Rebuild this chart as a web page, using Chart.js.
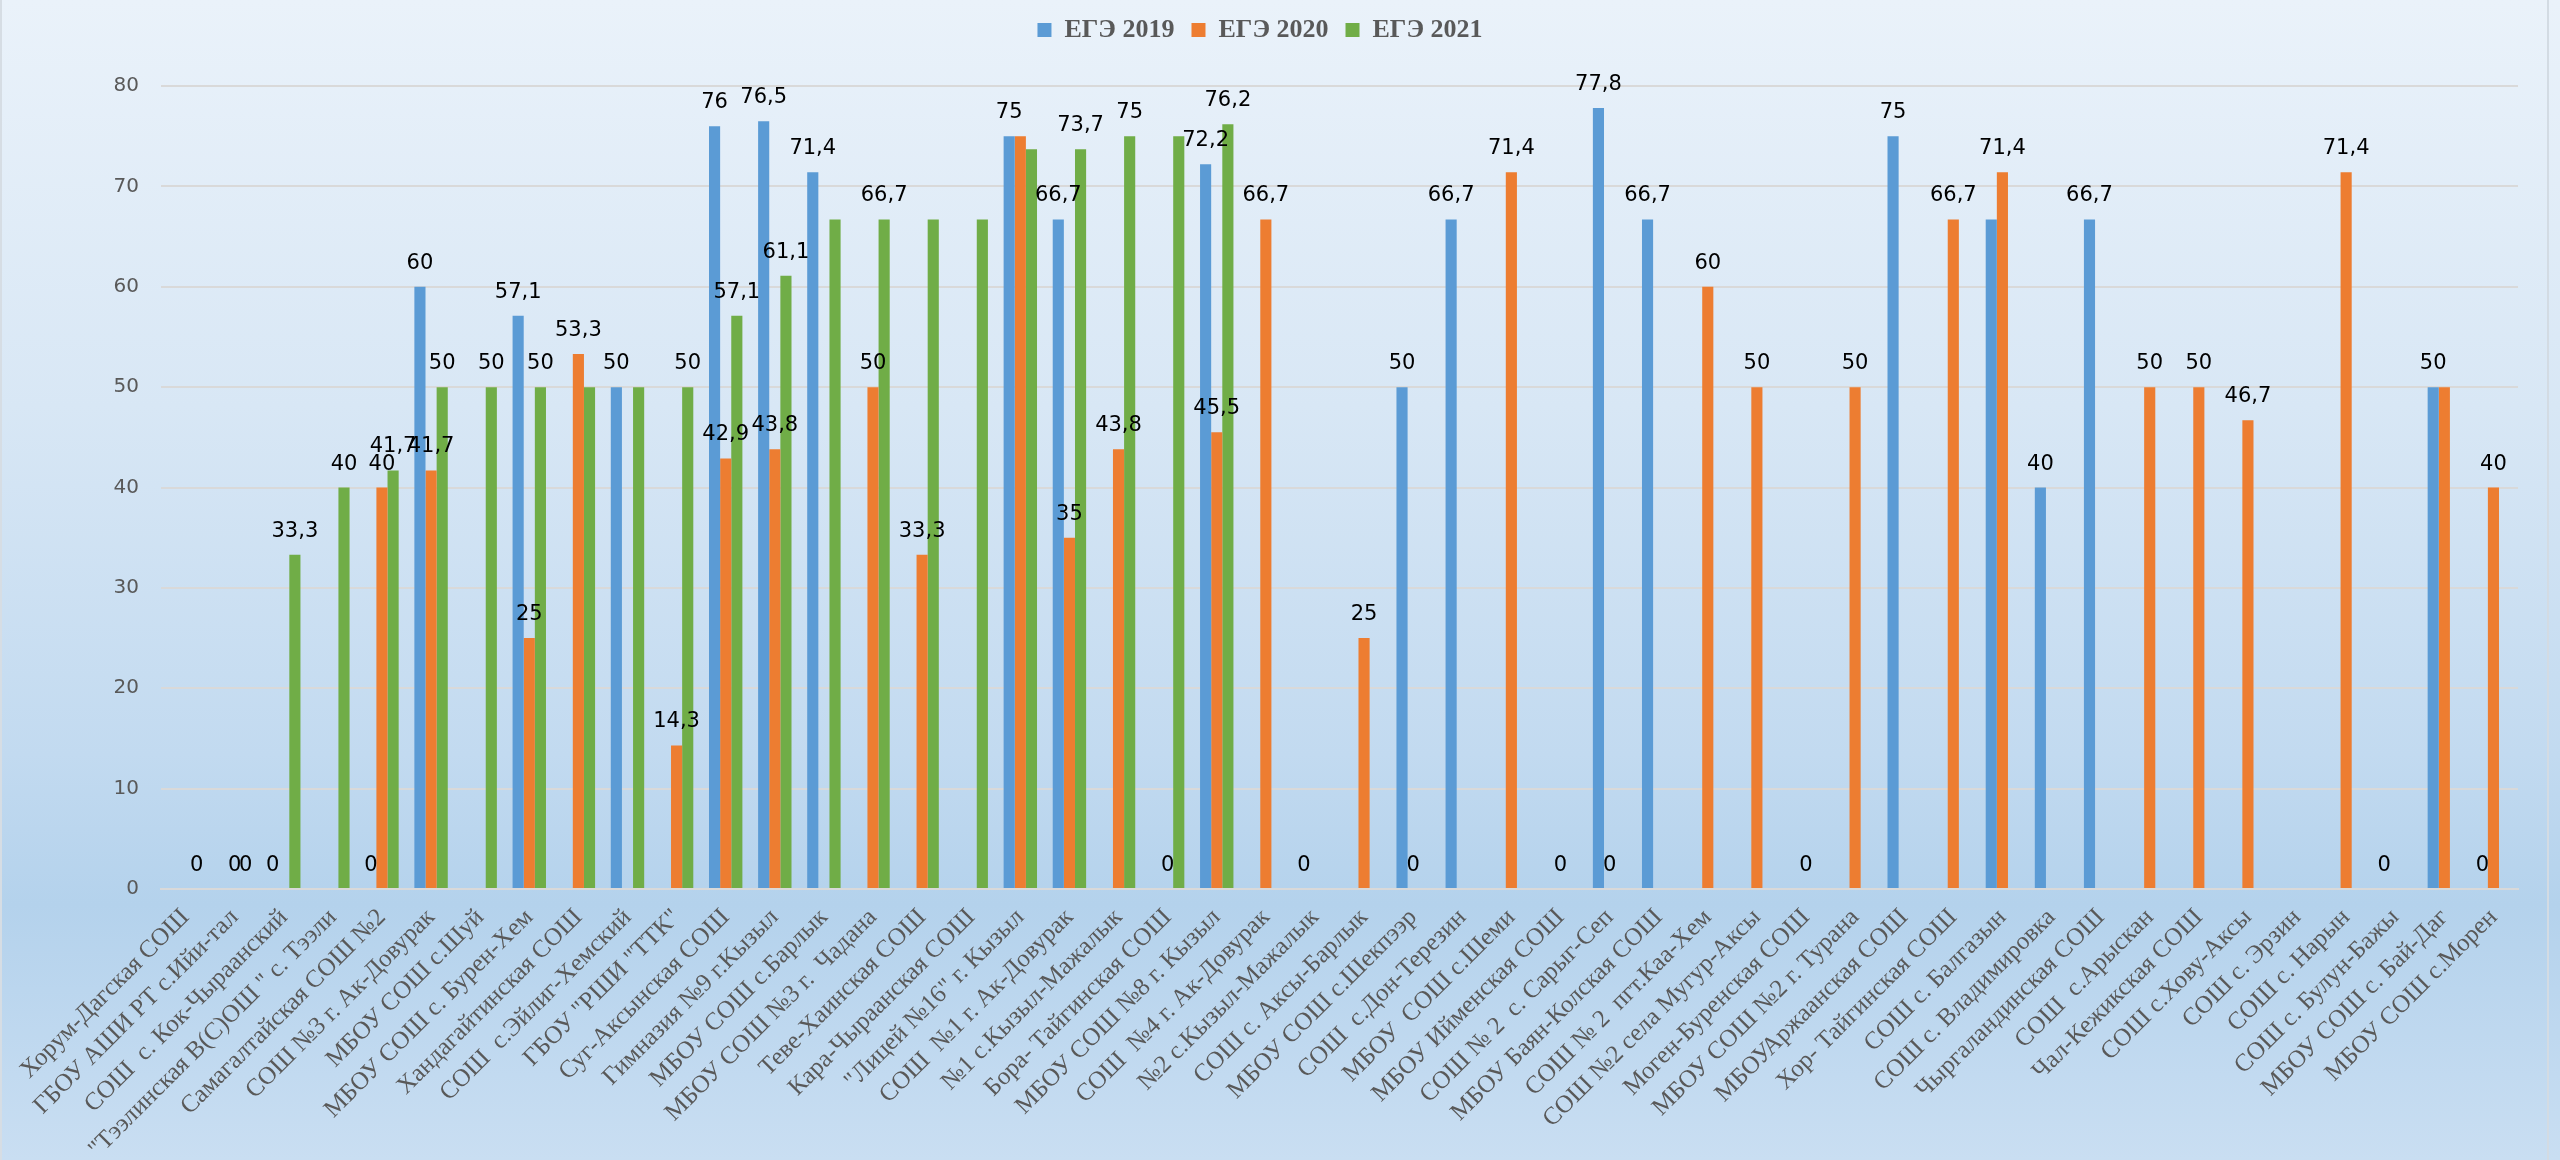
<!DOCTYPE html>
<html>
<head>
<meta charset="utf-8">
<script src="https://cdn.jsdelivr.net/npm/chart.js@4"></script>
<style>
  html, body { margin: 0; padding: 0; }
  #wrap {
    position: relative;
    width: 2560px;
    height: 1160px;
    background: linear-gradient(to bottom, #eaf2fa 0%, #d8e7f5 35%, #c2daf0 65%, #b4d2ec 78%, #c9def2 100%);
    box-sizing: border-box;
    border-left: 2px solid #d6dde4;
  }
  #edge {
    position: absolute;
    left: 2545px;
    top: 0;
    width: 2px;
    height: 1160px;
    background: #d3dbe3;
  }
</style>
</head>
<body>
<div id="wrap"><canvas id="chart"></canvas><div id="edge"></div></div>
<script>
const categories = [
  'Хорум-Дагская СОШ',
  'ГБОУ АШИ РТ с.Ийи-тал',
  'СОШ  с. Кок-Чыраанский',
  '"Тээлинская В(С)ОШ " с. Тээли',
  'Самагалтайская СОШ №2',
  'СОШ №3 г. Ак-Довурак',
  'МБОУ СОШ с.Шуй',
  'МБОУ СОШ с. Бурен-Хем',
  'Хандагайтинская СОШ',
  'СОШ  с.Эйлиг-Хемский',
  'ГБОУ "РШИ "ТТК"',
  'Суг-Аксынская СОШ',
  'Гимназия №9 г.Кызыл',
  'МБОУ СОШ с.Барлык',
  'МБОУ СОШ №3 г.  Чадана',
  'Теве-Хаинская СОШ',
  'Кара-Чыраанская СОШ',
  '"Лицей №16" г. Кызыл',
  'СОШ  №1 г. Ак-Довурак',
  '№1 с.Кызыл-Мажалык',
  'Бора- Тайгинская СОШ',
  'МБОУ СОШ №8 г. Кызыл',
  'СОШ  №4 г. Ак-Довурак',
  '№2 с.Кызыл-Мажалык',
  'СОШ с. Аксы-Барлык',
  'МБОУ СОШ с.Шекпээр',
  'СОШ  с.Дон-Терезин',
  'МБОУ  СОШ с.Шеми',
  'МБОУ Ийменская СОШ',
  'СОШ № 2  с. Сарыг-Сеп',
  'МБОУ Баян-Колская СОШ',
  'СОШ № 2  пгт.Каа-Хем',
  'СОШ №2 села Мугур-Аксы',
  'Моген-Буренская СОШ',
  'МБОУ СОШ №2 г. Турана',
  'МБОУАржаанская СОШ',
  'Хор- Тайгинская СОШ',
  'СОШ с. Балгазын',
  'СОШ с. Владимировка',
  'Чыргаландинская СОШ',
  'СОШ  с.Арыскан',
  'Чал-Кежикская СОШ',
  'СОШ с.Хову-Аксы',
  'СОШ с. Эрзин',
  'СОШ с. Нарын',
  'СОШ с. Булун-Бажы',
  'МБОУ СОШ с. Бай-Даг',
  'МБОУ СОШ с.Морен'
];

const ege2019 = [
  null, null, 0, null, 0, 60, null, 57.1, null, 50, null, 76,
  76.5, 71.4, null, null, null, 75, 66.7, null, null, 72.2, null, 0,
  null, 50, 66.7, null, null, 77.8, 66.7, null, null, null, null, 75,
  null, 66.7, 40, 66.7, null, null, null, null, null, 0, 50, 0
];

const ege2020 = [
  null, 0, null, null, 40, 41.7, null, 25, 53.3, null, 14.3, 42.9,
  43.8, null, 50, 33.3, null, 75, 35, 43.8, 0, 45.5, 66.7, null,
  25, 0, null, 71.4, 0, 0, null, 60, 50, 0, 50, null,
  66.7, 71.4, null, null, 50, 50, 46.7, null, 71.4, null, 50, 40
];

const ege2021 = [
  0, 0, 33.3, 40, 41.7, 50, 50, 50, 50, 50, 50, 57.1,
  61.1, 66.7, 66.7, 66.7, 66.7, 73.7, 73.7, 75, 75, 76.2, null, null,
  null, null, null, null, null, null, null, null, null, null, null, null,
  null, null, null, null, null, null, null, null, null, null, null, null
];

const seriesNames = ['ЕГЭ 2019', 'ЕГЭ 2020', 'ЕГЭ 2021'];
const yTickValues = [0, 10, 20, 30, 40, 50, 60, 70, 80];

// labels that were removed in the original chart ("series:category")
const hiddenLabels = ['2:8', '2:9', '2:13', '2:15', '2:16', '1:17', '2:17', '2:20', '0:37', '1:46'];

// value labels above each bar, "0" included, empty cells skipped
const valueLabels = {
  id: 'valueLabels',
  afterDatasetsDraw(chart) {
    const ctx = chart.ctx;
    ctx.save();
    ctx.font = '21px "DejaVu Sans"';
    ctx.fillStyle = '#000000';
    ctx.textAlign = 'center';
    ctx.textBaseline = 'alphabetic';
    chart.data.datasets.forEach((ds, i) => {
      const meta = chart.getDatasetMeta(i);
      meta.data.forEach((bar, j) => {
        const v = ds.data[j];
        if (v === null || v === undefined) return;
        if (hiddenLabels.includes(i + ':' + j)) return;
        ctx.fillText(String(v).replace('.', ','), bar.x, bar.y - 18);
      });
    });
    ctx.restore();
  }
};

// push the plot area down below the legend
const legendSpacing = {
  id: 'legendSpacing',
  beforeInit(chart) {
    const origFit = chart.legend.fit;
    chart.legend.fit = function fit() {
      origFit.bind(chart.legend)();
      this.height += 33;
    };
  }
};

const ctx = document.getElementById('chart');
new Chart(ctx, {
  type: 'bar',
  data: {
    labels: categories,
    datasets: [
      { label: seriesNames[0], data: ege2019, backgroundColor: '#5B9BD5' },
      { label: seriesNames[1], data: ege2020, backgroundColor: '#ED7D31' },
      { label: seriesNames[2], data: ege2021, backgroundColor: '#70AD47' }
    ]
  },
  options: {
    responsive: true,
    maintainAspectRatio: false,
    animation: false,
    datasets: {
      bar: { categoryPercentage: 0.68, barPercentage: 1.0, borderWidth: 0 }
    },
    layout: { padding: { top: 0, right: 42, bottom: 0, left: 0 } },
    plugins: {
      tooltip: { enabled: false },
      legend: {
        position: 'top',
        labels: {
          boxWidth: 14,
          boxHeight: 14,
          padding: 17,
          color: '#595959',
          font: { family: '"Liberation Serif"', size: 26, weight: 'bold' }
        }
      }
    },
    scales: {
      x: {
        grid: { display: false, drawTicks: false },
        border: { display: true, color: '#d9d9d9', width: 2 },
        ticks: {
          autoSkip: false,
          maxRotation: 45,
          minRotation: 45,
          padding: 14,
          color: '#595959',
          font: { family: '"Liberation Serif"', size: 25 }
        },
        afterFit(scale) { scale.height = 271; }
      },
      y: {
        min: 0,
        max: 80,
        afterBuildTicks(scale) { scale.ticks = yTickValues.map(v => ({ value: v })); },
        grid: { color: '#d9d9d9', lineWidth: 2, drawTicks: false },
        border: { display: false },
        ticks: {
          padding: 22,
          color: '#595959',
          font: { family: '"DejaVu Sans"', size: 20 }
        },
        afterFit(scale) { scale.width = 159; }
      }
    }
  },
  plugins: [valueLabels, legendSpacing]
});
</script>
</body>
</html>
